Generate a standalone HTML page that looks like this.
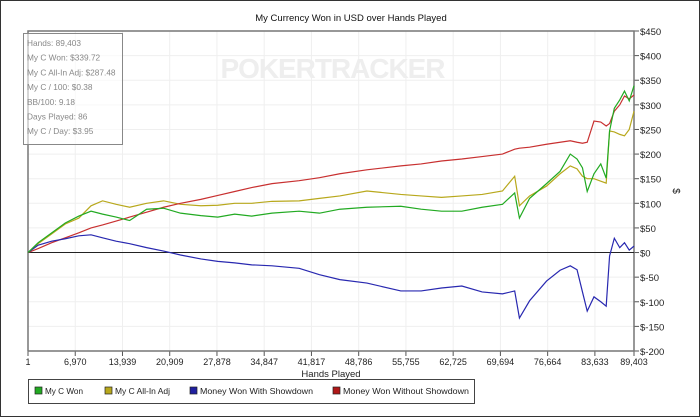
<!DOCTYPE html>
<html><head><meta charset="utf-8"><style>
body{margin:0;background:#fff;font-family:"Liberation Sans",sans-serif}
#wrap{position:relative;width:698px;height:415px;border:1px solid #333;overflow:hidden}
svg{position:absolute;left:0;top:0}
</style></head><body>
<div id="wrap">
<svg id="c" width="700" height="417"></svg>
</div>
<script>
const hands=[1,1500,3500,5500,7500,9300,11000,13000,15000,17500,20000,22500,25500,28000,30500,33000,36000,40000,43000,46000,50000,55000,58000,61000,64000,67000,70000,71800,72500,74000,76500,78500,80000,81000,81800,82500,83500,84500,85300,85800,86500,87300,88000,88700,89403];
const wonC=[0,20,40,60,74,84,78,72,65,88,90,80,75,72,78,74,80,84,80,88,92,94,88,84,84,92,98,121,70,110,140,165,200,190,172,124,160,180,151,247,293,310,328,308,339];
const adjC=[0,18,38,58,70,95,105,98,92,100,105,98,95,96,100,100,104,105,110,115,125,118,115,112,115,118,125,155,95,115,135,160,176,170,155,150,150,145,141,247,245,240,237,250,287];
const showC=[0,15,23,28,34,36,30,23,18,10,3,-5,-13,-18,-21,-25,-27,-32,-45,-55,-62,-78,-78,-72,-68,-80,-84,-78,-133,-98,-58,-36,-27,-35,-80,-119,-90,-100,-109,-7,29,10,20,5,13];
const noSdC=[0,8,20,30,40,50,56,64,72,82,92,100,108,116,124,132,140,146,152,160,168,176,180,186,190,195,200,210,212,214,220,224,227,224,222,224,267,265,257,262,287,300,318,312,320];
const xTicks=[1,6970,13939,20909,27878,34847,41817,48786,55755,62725,69694,76664,83633,89403];
const xTickLabels=["1","6,970","13,939","20,909","27,878","34,847","41,817","48,786","55,755","62,725","69,694","76,664","83,633","89,403"];
const yTicks=[450,400,350,300,250,200,150,100,50,0,-50,-100,-150,-200];
const yTickLabels=["$450","$400","$350","$300","$250","$200","$150","$100","$50","$0","$-50","$-100","$-150","$-200"];
const L=27,R=633,T=30,B=350,xMin=1,xMax=89403,yMin=-200,yMax=450;
const sx=v=>L+(v-xMin)/(xMax-xMin)*(R-L);
const sy=v=>B-(v-yMin)/(yMax-yMin)*(B-T);
const svg=document.getElementById('c');const NS='http://www.w3.org/2000/svg';
function mk(t,a,p){const e=document.createElementNS(NS,t);for(const k in a)e.setAttribute(k,a[k]);(p||svg).appendChild(e);return e;}
xTicks.forEach((v,i)=>{const g=mk('line',{x1:sx(v),x2:sx(v),y1:T,y2:B,stroke:'#efefef'});


const tk=mk('line',{x1:sx(v),x2:sx(v),y1:B,y2:B+5,stroke:'#555'});


const t=mk('text',{x:sx(v),y:B+14,'font-size':9,'text-anchor':'middle',fill:'#222'});t.textContent=xTickLabels[i];

});
yTicks.forEach((v,i)=>{const g=mk('line',{x1:L,x2:R,y1:sy(v),y2:sy(v),stroke:'#efefef'});


const tk=mk('line',{x1:R,x2:R+5,y1:sy(v),y2:sy(v),stroke:'#555'});


const t=mk('text',{x:R+6,y:sy(v)+4,'font-size':9.5,fill:'#222'});t.textContent=yTickLabels[i];

});
const wm=mk('text',{x:332,y:77,'font-size':28,'font-weight':'bold','text-anchor':'middle',fill:'#eeeeee',textLength:225});wm.textContent='POKERTRACKER';


const fr=mk('path',{d:`M${L},${B}L${L},${T}L${R},${T}L${R},${B}L${L},${B}`,fill:'none',stroke:'#777','stroke-width':1.5});


const z=mk('line',{x1:L,x2:R,y1:sy(0),y2:sy(0),stroke:'#222'});


[[adjC,'#b8a81c','series-all-in-adj'],[noSdC,'#c83030','series-without-showdown'],[showC,'#2828b0','series-with-showdown'],[wonC,'#22aa22','series-won']].forEach(([d,c,n])=>{
const p=mk('polyline',{points:d.map((v,i)=>sx(hands[i])+','+sy(v)).join(' '),fill:'none',stroke:c,'stroke-width':1.2});

});
const tt=mk('text',{x:350,y:20,'font-size':9.5,'text-anchor':'middle',fill:'#111'});tt.textContent='My Currency Won in USD over Hands Played';


const xt=mk('text',{x:330,y:376,'font-size':9.5,'text-anchor':'middle',fill:'#222'});xt.textContent='Hands Played';


const yt=mk('text',{x:672,y:190,'font-size':10,'text-anchor':'middle',fill:'#222',transform:'rotate(90 672 190)'});yt.textContent='$';


const sb=mk('rect',{x:22.5,y:32.5,width:99,height:111,fill:'rgba(255,255,255,0.6)',stroke:'#888'});


['Hands: 89,403','My C Won: $339.72','My C All-In Adj: $287.48','My C / 100: $0.38','BB/100: 9.18','Days Played: 86','My C / Day: $3.95'].forEach((s,i)=>{
const t=mk('text',{x:26,y:45+i*14.7,'font-size':8.3,fill:'#888'});t.textContent=s;

});
const lg=mk('rect',{x:27.5,y:378.5,width:446,height:24,fill:'#fff',stroke:'#444'});


[['My C Won','#22aa22',34,38],['My C All-In Adj','#b8a81c',104,55],['Money Won With Showdown','#2020a0',189,113],['Money Won Without Showdown','#b01818',332,126]].forEach(([s,c,x,w])=>{
const r=mk('rect',{x:x,y:386,width:7,height:7,fill:c,stroke:'#222','stroke-width':0.7});


const t=mk('text',{x:x+10,y:393,'font-size':8.5,fill:'#222',textLength:w,lengthAdjust:'spacingAndGlyphs'});t.textContent=s;

});
</script>
</body></html>
